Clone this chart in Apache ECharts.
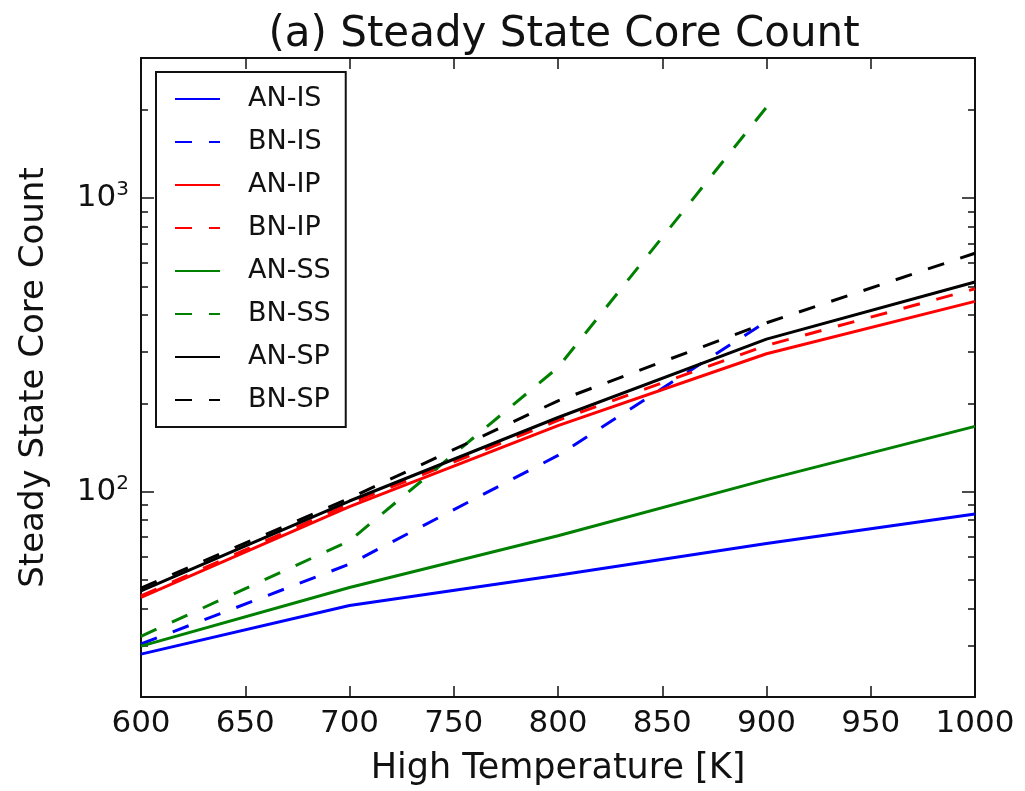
<!DOCTYPE html>
<html>
<head>
<meta charset="utf-8">
<title>Steady State Core Count</title>
<script src="https://cdn.jsdelivr.net/npm/echarts@6.0.0/dist/echarts.min.js"></script>
<style>
  html, body { margin: 0; padding: 0; background: #fff; }
  #chart { width: 1025px; height: 791px; }
</style>
</head>
<body>
<div id="chart"></div>
<script>
// High temperature samples [K]
const temps = [600, 700, 800, 900, 1000];

// Steady-state core counts per configuration
const anIS = [28, 41, 52, 66.7, 84];
const bnIS = [30.3, 56.7, 133, 380];
const anIP = [43.7, 89, 168, 295, 445];
const bnIP = [44.2, 91, 175, 315, 491];
const anSS = [29.8, 47.2, 70.8, 110, 167];
const bnSS = [32.2, 68, 265, 2040];
const anSP = [46, 93, 179, 331, 518];
const bnSP = [47, 95, 204, 376, 649];

// Axis ticks
const xTicks = [600, 650, 700, 750, 800, 850, 900, 950, 1000];
const yMajor = [100, 1000];
const yMinor = [30, 40, 50, 60, 70, 80, 90, 200, 300, 400, 500, 600, 700, 800, 900, 2000];
const yLabels = { 100: '2', 1000: '3' };

const FONT = 'DejaVu Sans';
const INK = '#111';
const DASH = [17, 17];

function pairs(ys) {
  return ys.map((y, i) => [temps[i], y]);
}

const seriesDefs = [
  { name: 'AN-IS', data: anIS, color: '#0000ff', dashed: false },
  { name: 'BN-IS', data: bnIS, color: '#0000ff', dashed: true },
  { name: 'AN-IP', data: anIP, color: '#ff0000', dashed: false },
  { name: 'BN-IP', data: bnIP, color: '#ff0000', dashed: true },
  { name: 'AN-SS', data: anSS, color: '#008000', dashed: false },
  { name: 'BN-SS', data: bnSS, color: '#008000', dashed: true },
  { name: 'AN-SP', data: anSP, color: '#000000', dashed: false },
  { name: 'BN-SP', data: bnSP, color: '#000000', dashed: true }
];

const frameLine = { show: true, onZero: false, lineStyle: { color: INK, width: 2 } };

function logAxis(position, major, withLabels) {
  return {
    type: 'log',
    logBase: 10,
    position: position,
    min: 20,
    max: 3000,
    axisLine: frameLine,
    splitLine: { show: false },
    minorTick: { show: false },
    axisTick: {
      show: true,
      inside: true,
      length: major ? 13 : 7,
      customValues: major ? yMajor : yMinor,
      lineStyle: { color: INK, width: 1.5 }
    },
    axisLabel: withLabels ? {
      show: true,
      customValues: yMajor,
      margin: 12,
      formatter: v => '{b|10}{e|' + (yLabels[Math.round(v)] || '') + '}',
      rich: {
        b: { fontFamily: FONT, fontSize: 31, color: INK, lineHeight: 36 },
        e: { fontFamily: FONT, fontSize: 20, color: INK, lineHeight: 20, verticalAlign: 'top' }
      }
    } : { show: false }
  };
}

function tempAxis(position, withLabels) {
  return {
    type: 'value',
    position: position,
    min: 600,
    max: 1000,
    interval: 50,
    axisLine: frameLine,
    splitLine: { show: false },
    axisTick: { show: true, inside: true, length: 11, lineStyle: { color: INK, width: 1.5 } },
    axisLabel: withLabels ? {
      show: true,
      margin: 11,
      fontFamily: FONT,
      fontSize: 31,
      color: INK,
      formatter: v => String(v)
    } : { show: false }
  };
}

const xBottom = Object.assign(tempAxis('bottom', true), {
  name: 'High Temperature [K]',
  nameLocation: 'middle',
  nameGap: 54,
  nameTextStyle: { fontFamily: FONT, fontSize: 35, color: INK }
});

const yLeftMajor = Object.assign(logAxis('left', true, true), {
  name: 'Steady State Core Count',
  nameLocation: 'middle',
  nameGap: 90,
  nameRotate: 90,
  nameTextStyle: { fontFamily: FONT, fontSize: 34, color: INK }
});

const chart = echarts.init(document.getElementById('chart'), null, { renderer: 'canvas' });

chart.setOption({
  animation: false,
  backgroundColor: '#fff',
  title: {
    text: '(a) Steady State Core Count',
    left: 559,
    top: 9,
    textAlign: 'center',
    textStyle: { fontFamily: FONT, fontSize: 42, fontWeight: 'normal', color: INK }
  },
  grid: { left: 141, right: 50, top: 58, bottom: 93, containLabel: false },
  legend: {
    orient: 'vertical',
    left: 156,
    top: 72,
    padding: [12, 15, 12, 18],
    itemWidth: 45,
    itemHeight: 14,
    itemGap: 13,
    backgroundColor: '#fff',
    borderColor: INK,
    borderWidth: 2,
    borderRadius: 0,
    // line samples only, no point marker
    itemStyle: { opacity: 0, borderWidth: 0 },
    textStyle: { fontFamily: FONT, fontSize: 27, color: INK, lineHeight: 30, padding: [0, 0, 0, 23] },
    data: seriesDefs.map(s => s.name)
  },
  xAxis: [xBottom, tempAxis('top', false)],
  yAxis: [
    yLeftMajor,
    logAxis('left', false, false),
    logAxis('right', true, false),
    logAxis('right', false, false)
  ],
  series: seriesDefs.map(s => ({
    name: s.name,
    type: 'line',
    xAxisIndex: 0,
    yAxisIndex: 0,
    data: pairs(s.data),
    symbol: 'none',
    silent: true,
    lineStyle: { color: s.color, width: 3, type: s.dashed ? DASH : 'solid' },
    itemStyle: { color: s.color }
  }))
});
</script>
</body>
</html>
